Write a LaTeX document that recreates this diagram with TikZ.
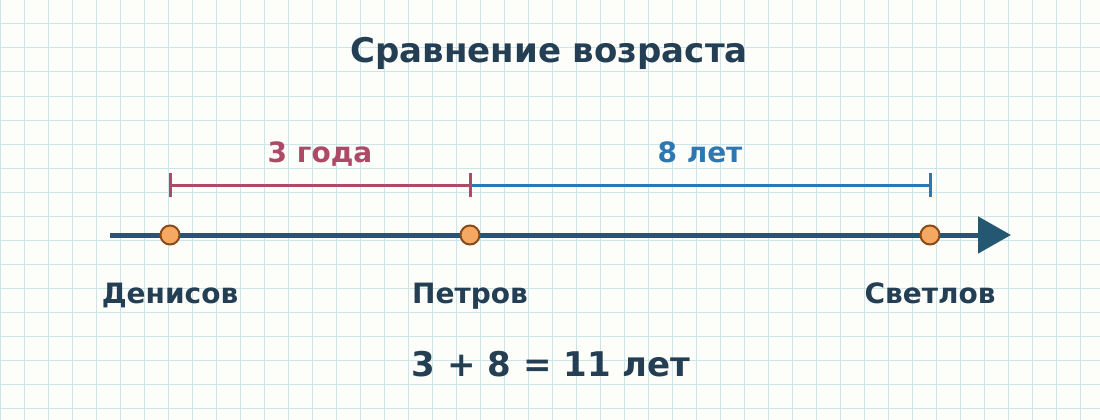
\documentclass[tikz,border=0pt]{standalone}
\usepackage{fontspec}
\setmainfont{DejaVu Sans}
\usetikzlibrary{arrows.meta}

\definecolor{paper}{HTML}{FDFDF9}
\definecolor{gridblue}{HTML}{CFE4E8}
\definecolor{ink}{HTML}{243E54}
\definecolor{axisblue}{HTML}{245872}
\definecolor{agered}{HTML}{AE4A69}
\definecolor{ageblue}{HTML}{2E78B2}
\definecolor{dotfill}{HTML}{F5A862}
\definecolor{dotline}{HTML}{8A4A16}

\tikzset{
	person/.style={circle, draw=dotline, fill=dotfill, line width=2pt, inner sep=0pt, minimum size=19pt},
	bigtext/.style={anchor=base, text=ink, font=\bfseries\fontsize{34}{38}\selectfont},
	midtext/.style={anchor=base, font=\bfseries\fontsize{28}{32}\selectfont},
	personname/.style={midtext, text=ink},
	agespan/.style={line width=3pt},
}

\begin{document}
\begin{tikzpicture}[x=1pt, y=-1pt, line cap=butt]
			\useasboundingbox (0,0) rectangle (1100,420);
			\fill[paper] (0,0) rectangle (1100,420);
			\foreach \i in {0,24,...,1100}{
				\draw[gridblue, line width=1pt] (\i,0) -- (\i,420);}
			\foreach \j in {0,24,...,420}{
				\draw[gridblue, line width=1pt] (0,\j) -- (1100,\j);}
			
			\node[bigtext] (title) at (549,63) {Сравнение возраста};
			
			% axis
			\coordinate (start) at (110,235);
			\coordinate (end) at (1011,235);
			\draw[axisblue, line width=5pt, -{Triangle[length=33pt, width=36pt]}] (start) -- (end);
			
			% spans
			\coordinate (d) at (170,185);
			\coordinate (p) at (470,185);
			\coordinate (s) at (930,185);
			\draw[agespan, agered] (d) -- (p);
			\draw[agespan, ageblue] (p) -- (s);
			\foreach \c/\col in {d/agered, p/agered, s/ageblue}{
				\draw[agespan, \col] ([yshift=-12pt]\c) -- ([yshift=12pt]\c);}
			\node[midtext, text=agered] (three) at (320,162) {3 года};
			\node[midtext, text=ageblue] (eight) at (700,162) {8 лет};
			
			% people
			\node[person] (denisov) at (170,235) {};
			\node[person] (petrov) at (470,235) {};
			\node[person] (svetlov) at (930,235) {};
			\node[personname] (denisovname) at (170,303) {Денисов};
			\node[personname] (petrovname) at (470,303) {Петров};
			\node[personname] (svetlovname) at (930,303) {Светлов};
			
			\node[bigtext] (sum) at (551,376) {3 + 8 = 11 лет};
		\end{tikzpicture}
\end{document}
